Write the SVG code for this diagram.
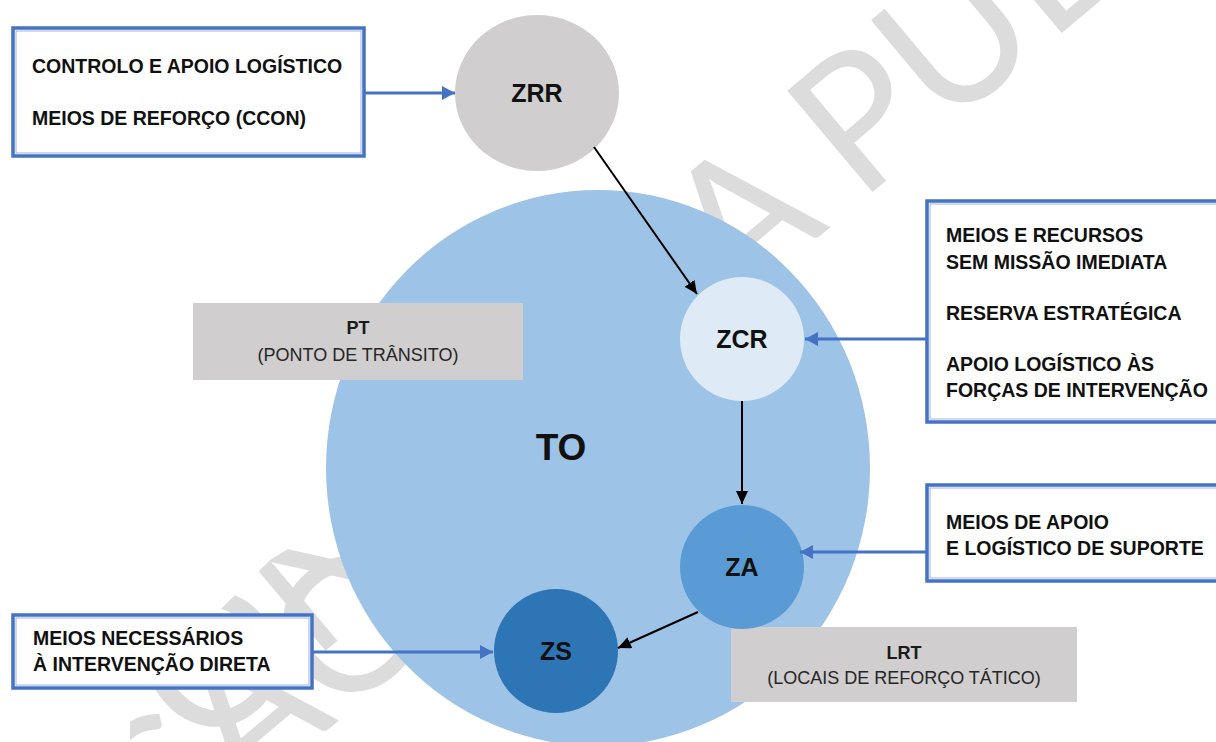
<svg xmlns="http://www.w3.org/2000/svg" width="1216" height="742" viewBox="0 0 1216 742">
  <defs>
    <style>
      .wm{font-family:Lato,"Open Sans","DejaVu Sans",sans-serif;font-weight:400;font-size:185px;fill:#dcdcdc}
      .box{fill:#ffffff;stroke:#4472c4;stroke-width:3.5}
      .boxin{fill:none;stroke:#9db3e0;stroke-width:1}
      .lbl{font-family:"Liberation Sans",Arial,sans-serif;font-weight:bold;font-size:19.5px;fill:#111111}
      .tag{fill:#d0cece}
      .tagb{font-family:"Liberation Sans",Arial,sans-serif;font-weight:bold;font-size:18px;fill:#1a1a1a;text-anchor:middle}
      .tagt{font-family:"Liberation Sans",Arial,sans-serif;font-size:18px;fill:#262626;text-anchor:middle}
      .node{font-family:"Liberation Sans",Arial,sans-serif;font-weight:bold;font-size:25px;fill:#111111;text-anchor:middle}
      .big{font-size:37px}
      .blk{stroke:#000000;stroke-width:2;fill:none}
      .blu{stroke:#4472c4;stroke-width:3;fill:none}
    </style>
    <marker id="ahBlack" markerUnits="userSpaceOnUse" markerWidth="14" markerHeight="12" refX="13" refY="6" orient="auto">
      <path d="M0,0 L13,6 L0,12 Z" fill="#000000"/>
    </marker>
    <marker id="ahBlue" markerUnits="userSpaceOnUse" markerWidth="14" markerHeight="14" refX="13" refY="7" orient="auto">
      <path d="M0,0 L13,7 L0,14 Z" fill="#4472c4"/>
    </marker>
    <!-- the watermark only shows through on the right and lower-left parts of the figure -->
    <clipPath id="wmClip">
      <polygon points="335,0 1216,0 1216,742 130,742 130,700 270,560 335,520"/>
    </clipPath>
  </defs>

  <rect width="1216" height="742" fill="#ffffff"/>

  <!-- background watermark -->
  <g id="watermark" clip-path="url(#wmClip)">
    <g transform="translate(352,622) rotate(-40)">
      <text class="wm" x="72" y="67" text-anchor="end">VERSÃO</text>
    </g>
    <g transform="translate(860,115) rotate(-40)">
      <text class="wm" x="-94" y="67" text-anchor="end">CONSULTA</text>
      <text class="wm" x="-57" y="67">PÚBLICA</text>
    </g>
  </g>

  <!-- theatre of operations -->
  <g id="to">
    <ellipse cx="598" cy="468" rx="272" ry="278" fill="#9dc3e6"/>
    <text class="node big" x="561" y="460">TO</text>
  </g>

  <g id="pt">
    <rect class="tag" x="193" y="303" width="330" height="77"/>
    <text class="tagb" x="358" y="334">PT</text>
    <text class="tagt" x="358" y="361">(PONTO DE TRÂNSITO)</text>
  </g>

  <g id="lrt">
    <rect class="tag" x="731" y="627" width="346" height="75"/>
    <text class="tagb" x="904" y="659">LRT</text>
    <text class="tagt" x="904" y="684">(LOCAIS DE REFORÇO TÁTICO)</text>
  </g>

  <g id="zrr">
    <ellipse cx="537" cy="93" rx="82" ry="78" fill="#d0cece"/>
    <text class="node" x="537" y="102">ZRR</text>
  </g>

  <g id="zcr">
    <circle cx="742" cy="339" r="62" fill="#deebf7"/>
    <text class="node" x="742" y="348">ZCR</text>
  </g>

  <g id="za">
    <circle cx="742" cy="567" r="62" fill="#5b9bd5"/>
    <text class="node" x="742" y="576">ZA</text>
  </g>

  <g id="zs">
    <circle cx="556" cy="651" r="62" fill="#2e75b6"/>
    <text class="node" x="556" y="660">ZS</text>
  </g>

  <g id="box-control">
    <rect class="box" x="13" y="28" width="351" height="128"/>
    <rect class="boxin" x="16" y="31" width="345" height="122"/>
    <text class="lbl" x="32" y="73">CONTROLO E APOIO LOGÍSTICO</text>
    <text class="lbl" x="32" y="125">MEIOS DE REFORÇO (CCON)</text>
  </g>

  <g id="box-reserve">
    <rect class="box" x="927" y="201" width="300" height="221"/>
    <rect class="boxin" x="930" y="204" width="300" height="215"/>
    <text class="lbl" x="946" y="242">MEIOS E RECURSOS</text>
    <text class="lbl" x="946" y="269">SEM MISSÃO IMEDIATA</text>
    <text class="lbl" x="946" y="320">RESERVA ESTRATÉGICA</text>
    <text class="lbl" x="946" y="371">APOIO LOGÍSTICO ÀS</text>
    <text class="lbl" x="946" y="397">FORÇAS DE INTERVENÇÃO</text>
  </g>

  <g id="box-support">
    <rect class="box" x="927" y="485" width="300" height="96"/>
    <rect class="boxin" x="930" y="488" width="300" height="90"/>
    <text class="lbl" x="946" y="529">MEIOS DE APOIO</text>
    <text class="lbl" x="946" y="555">E LOGÍSTICO DE SUPORTE</text>
  </g>

  <g id="box-direct">
    <rect class="box" x="13" y="615" width="299" height="73"/>
    <rect class="boxin" x="16" y="618" width="293" height="67"/>
    <text class="lbl" x="33" y="645">MEIOS NECESSÁRIOS</text>
    <text class="lbl" x="33" y="671">À INTERVENÇÃO DIRETA</text>
  </g>

  <!-- connectors -->
  <g id="connectors">
    <line class="blk" x1="594" y1="147" x2="697" y2="294" marker-end="url(#ahBlack)"/>
    <line class="blk" x1="742" y1="401" x2="742" y2="504" marker-end="url(#ahBlack)"/>
    <line class="blk" x1="698" y1="612" x2="618" y2="648" marker-end="url(#ahBlack)"/>
    <line class="blu" x1="364" y1="93" x2="455" y2="93" marker-end="url(#ahBlue)"/>
    <line class="blu" x1="927" y1="339" x2="805" y2="339" marker-end="url(#ahBlue)"/>
    <line class="blu" x1="927" y1="552" x2="800" y2="552" marker-end="url(#ahBlue)"/>
    <line class="blu" x1="312" y1="652" x2="493" y2="652" marker-end="url(#ahBlue)"/>
  </g>
</svg>
